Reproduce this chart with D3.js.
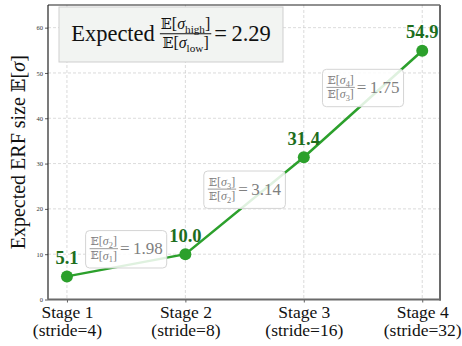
<!DOCTYPE html>
<html lang="en">
<head>
<meta charset="UTF-8">
<title>Expected ERF size per stage</title>
<script src="https://d3js.org/d3.v7.min.js"></script>
<style>
  body { margin: 0; background: #fff; }
  svg { display: block; font-family: 'Liberation Serif', 'Times New Roman', serif; }
</style>
</head>
<body>
<script>
// data
const stages = ["Stage 1", "Stage 2", "Stage 3", "Stage 4"];
const strides = ["(stride=4)", "(stride=8)", "(stride=16)", "(stride=32)"];
const erfValues = [5.1, 10.0, 31.4, 54.9];
const stepRatios = [1.98, 3.14, 1.75];
const overallRatio = 2.29;
const yTicks = [0, 10, 20, 30, 40, 50, 60];

const width = 462, height = 346;
const plot = { left: 48, right: 440, top: 5, bottom: 299.5 };
const green = "#2ca02c", darkGreen = "#1d6e1d";
const serif = "'Liberation Serif', 'Times New Roman', serif";

const svg = d3.select("body").append("svg")
    .attr("width", width)
    .attr("height", height);

const x = d3.scaleLinear().domain([-0.16, 3.15]).range([plot.left, plot.right]);
const y = d3.scaleLinear().domain([0, 65]).range([plot.bottom, plot.top]);

// grid
const grid = svg.append("g")
    .attr("stroke", "#cccccc")
    .attr("stroke-width", 0.7)
    .attr("stroke-dasharray", "3,2");
grid.selectAll("line.gx").data(stages).enter().append("line")
    .attr("x1", (d, i) => x(i)).attr("x2", (d, i) => x(i))
    .attr("y1", plot.top).attr("y2", plot.bottom);
grid.selectAll("line.gy").data(yTicks.filter(t => t > 0)).enter().append("line")
    .attr("x1", plot.left).attr("x2", plot.right)
    .attr("y1", d => y(d)).attr("y2", d => y(d));

// axes
const yAxis = svg.append("g")
    .attr("transform", `translate(${plot.left},0)`)
    .call(d3.axisLeft(y).tickValues(yTicks).tickSize(3).tickPadding(2))
    .attr("font-family", serif);
yAxis.select(".domain").remove();
yAxis.selectAll("text")
    .style("font-size", "6.5px")
    .attr("fill", "#333");
yAxis.selectAll("line").attr("stroke", "#333").attr("stroke-width", 0.8);

const xAxis = svg.append("g")
    .attr("transform", `translate(0,${plot.bottom})`)
    .call(d3.axisBottom(x).tickValues(d3.range(stages.length)).tickSize(3).tickFormat(""))
    .attr("font-family", serif);
xAxis.select(".domain").remove();
xAxis.selectAll("line").attr("stroke", "#333").attr("stroke-width", 0.8);
xAxis.selectAll(".tick").append("text")
    .attr("text-anchor", "middle")
    .attr("fill", "#111")
    .style("font-size", "17.5px")
    .each(function(d) {
        const t = d3.select(this);
        t.append("tspan").attr("x", 0).attr("y", 18).text(stages[d]);
        t.append("tspan").attr("x", 0).attr("y", 36).text(strides[d]);
    });

// y axis label
svg.append("text")
    .attr("transform", `translate(25,${(plot.top + plot.bottom) / 2}) rotate(-90)`)
    .attr("text-anchor", "middle")
    .attr("fill", "#111")
    .style("font-size", "20px")
    .call(t => {
        t.append("tspan").text("Expected ERF size ");
        t.append("tspan").style("font-family", "'DejaVu Serif', serif").style("font-size", "18px").text("𝔼");
        t.append("tspan").text("[");
        t.append("tspan").style("font-style", "italic").text("σ");
        t.append("tspan").text("]");
    });

// line + points
const line = d3.line().x((d, i) => x(i)).y(d => y(d));
svg.append("path")
    .datum(erfValues)
    .attr("fill", "none")
    .attr("stroke", green)
    .attr("stroke-width", 2.5)
    .attr("d", line);
svg.selectAll("circle.pt").data(erfValues).enter().append("circle")
    .attr("cx", (d, i) => x(i))
    .attr("cy", d => y(d))
    .attr("r", 6)
    .attr("fill", green);

// rich text helper: parts = [{t, it, sub, bb}]
function rich(text, parts, size) {
    let shifted = false;
    parts.forEach(p => {
        const ts = text.append("tspan").text(p.t);
        if (p.it) ts.style("font-style", "italic");
        if (p.bb) ts.style("font-family", "'DejaVu Serif', serif").style("font-size", (size * 0.9) + "px");
        if (p.sub) {
            ts.attr("dy", size * 0.25).style("font-size", (size * 0.7) + "px");
            shifted = true;
        } else if (shifted) {
            ts.attr("dy", -size * 0.25);
            shifted = false;
        }
    });
}
const expOf = sub => [{ t: "𝔼", bb: true }, { t: "[" }, { t: "σ", it: true }, { t: sub, sub: true }, { t: "]" }];

// fraction with numerator / denominator, left edge at x0, bar at barY
function fraction(g, x0, barY, num, den, size, color) {
    const n = g.append("text").attr("text-anchor", "middle").attr("y", barY - size * 0.3)
        .attr("fill", color).style("font-size", size + "px");
    rich(n, num, size);
    const d = g.append("text").attr("text-anchor", "middle").attr("y", barY + size * 0.9)
        .attr("fill", color).style("font-size", size + "px");
    rich(d, den, size);
    const w = Math.max(n.node().getComputedTextLength(), d.node().getComputedTextLength()) + 2;
    n.attr("x", x0 + w / 2);
    d.attr("x", x0 + w / 2);
    g.append("line")
        .attr("x1", x0).attr("x2", x0 + w)
        .attr("y1", barY).attr("y2", barY)
        .attr("stroke", color).attr("stroke-width", Math.max(0.8, size / 15));
    return w;
}

// step ratio annotations
stepRatios.forEach((r, i) => {
    const cx = (x(i) + x(i + 1)) / 2;
    const cy = (y(erfValues[i]) + y(erfValues[i + 1])) / 2 - 16;
    const box = svg.append("g");
    const rect = box.append("rect");
    const content = box.append("g");
    const fw = fraction(content, 0, 0, expOf(String(i + 2)), expOf(String(i + 1)), 12, "#808080");
    content.append("text")
        .attr("x", fw + 2).attr("y", 5.5)
        .attr("fill", "#808080")
        .style("font-size", "17px")
        .text("=" + "\u2009" + r.toFixed(2));
    const bb = content.node().getBBox();
    const pad = 4;
    const tx = cx - (bb.x + bb.width / 2), ty = cy - (bb.y + bb.height / 2);
    content.attr("transform", `translate(${tx},${ty})`);
    rect.attr("x", cx - bb.width / 2 - pad).attr("y", cy - bb.height / 2 - pad + 0.5)
        .attr("width", bb.width + pad * 2).attr("height", bb.height + pad * 2 - 1)
        .attr("rx", 4)
        .attr("fill", "#fff").attr("fill-opacity", 0.85)
        .attr("stroke", "#d4d4d4").attr("stroke-width", 1);
});

// value labels
svg.selectAll("text.val").data(erfValues).enter().append("text")
    .attr("x", (d, i) => x(i))
    .attr("y", d => y(d) - 12.5)
    .attr("text-anchor", "middle")
    .attr("fill", darkGreen)
    .style("font-size", "18.5px")
    .style("font-weight", "bold")
    .text(d => d.toFixed(1));

// title box
const tb = svg.append("g");
tb.append("rect")
    .attr("x", plot.left + 11).attr("y", plot.top + 2)
    .attr("width", 224).attr("height", 55)
    .attr("fill", "#f2f4f2")
    .attr("stroke", "#cfcfcf").attr("stroke-width", 1);
const tContent = tb.append("g");
const word = tContent.append("text")
    .attr("x", 0).attr("y", 0)
    .attr("fill", "#111")
    .style("font-size", "22.5px")
    .text("Expected");
const w1 = word.node().getComputedTextLength();
const tfw = fraction(tContent, w1 + 5, -7.5, expOf("high"), expOf("low"), 16, "#111");
tContent.append("text")
    .attr("x", w1 + 5 + tfw + 3).attr("y", 0)
    .attr("fill", "#111")
    .style("font-size", "22.5px")
    .text("=" + "\u2009" + overallRatio.toFixed(2));
const tbb = tContent.node().getBBox();
const rcx = plot.left + 11 + 112, rcy = plot.top + 2 + 27.5;
tContent.attr("transform", `translate(${rcx - (tbb.x + tbb.width / 2)},${rcy - (tbb.y + tbb.height / 2)})`);

// frame
svg.append("line").attr("x1", plot.left).attr("x2", plot.right).attr("y1", plot.top).attr("y2", plot.top)
    .attr("stroke", "#222").attr("stroke-width", 1.2);
svg.append("line").attr("x1", plot.left).attr("x2", plot.left).attr("y1", plot.top).attr("y2", plot.bottom)
    .attr("stroke", "#222").attr("stroke-width", 1.2);
svg.append("line").attr("x1", plot.right).attr("x2", plot.right).attr("y1", plot.top).attr("y2", plot.bottom + 1)
    .attr("stroke", "#6a6a6a").attr("stroke-width", 2);
svg.append("line").attr("x1", plot.left).attr("x2", plot.right + 1).attr("y1", plot.bottom).attr("y2", plot.bottom)
    .attr("stroke", "#6a6a6a").attr("stroke-width", 2);
</script>
</body>
</html>
